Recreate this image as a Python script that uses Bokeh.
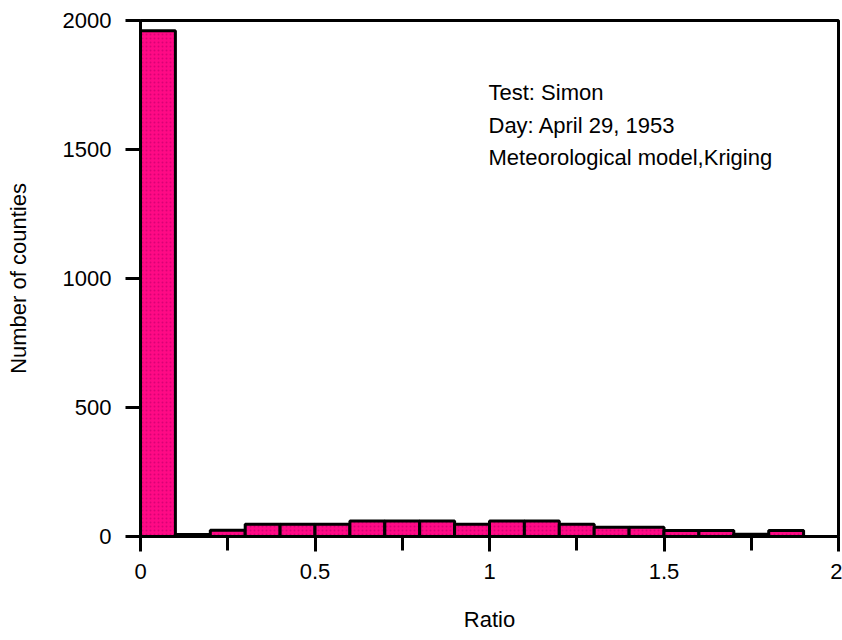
from bokeh.plotting import figure
from bokeh.models import Range1d, FixedTicker, Label
from bokeh.embed import file_html
from bokeh.resources import INLINE

# Data
bin_edges = [0.0, 0.1, 0.2, 0.3, 0.4, 0.5, 0.6, 0.7, 0.8, 0.9, 1.0,
             1.1, 1.2, 1.3, 1.4, 1.5, 1.6, 1.7, 1.8, 1.9]
counts = [1960, 8, 24, 47, 47, 47, 60, 60, 60, 47, 60, 60, 47, 36, 36, 23, 23, 9, 23]
x_major = [0, 0.5, 1, 1.5, 2]
x_minor = [0.25, 0.75, 1.25, 1.75]
y_major = [0, 500, 1000, 1500, 2000]
notes = ["Test: Simon", "Day: April 29, 1953", "Meteorological model,Kriging"]

FONT = "Liberation Sans"

p = figure(width=842, height=640, output_backend="svg", toolbar_location=None,
           x_range=Range1d(0, 2), y_range=Range1d(0, 2000),
           min_border_left=140, min_border_top=20, min_border_bottom=104,
           min_border_right=4)
p.background_fill_color = "white"
p.border_fill_color = "white"
p.grid.visible = False
p.outline_line_color = "black"
p.outline_line_width = 3

p.quad(left=bin_edges[:-1], right=bin_edges[1:], bottom=0, top=counts,
       fill_color="#FF0A85", line_color="black", line_width=3,
       hatch_pattern="dot", hatch_color="#C8006E", hatch_alpha=0.7,
       hatch_scale=4, hatch_weight=1.5)

for ax in (p.xaxis[0], p.yaxis[0]):
    ax.axis_line_width = 3
    ax.axis_line_color = "black"
    ax.major_tick_line_width = 3
    ax.minor_tick_line_width = 3
    ax.major_tick_in = 0
    ax.major_tick_out = 15
    ax.minor_tick_in = 0
    ax.minor_tick_out = 14
    ax.major_label_text_font = FONT
    ax.major_label_text_font_size = "22px"
    ax.major_label_text_color = "black"
    ax.axis_label_text_font = FONT
    ax.axis_label_text_font_size = "22px"
    ax.axis_label_text_font_style = "normal"
    ax.axis_label_text_color = "black"

p.xaxis[0].ticker = FixedTicker(ticks=x_major, minor_ticks=x_minor)
p.yaxis[0].ticker = FixedTicker(ticks=y_major)
p.xaxis[0].axis_label = "Ratio"
p.yaxis[0].axis_label = "Number of counties"
p.xaxis[0].major_label_standoff = 12
p.yaxis[0].major_label_standoff = 14
p.xaxis[0].axis_label_standoff = 25
p.yaxis[0].axis_label_standoff = 29

for i, t in enumerate(notes):
    p.add_layout(Label(x=348, y=[444, 411, 379][i], x_units="screen", y_units="screen",
                       text=t, text_font=FONT, text_font_size="22px",
                       text_baseline="alphabetic", text_color="black"))

open("out.html", "w").write(file_html(p, INLINE))
